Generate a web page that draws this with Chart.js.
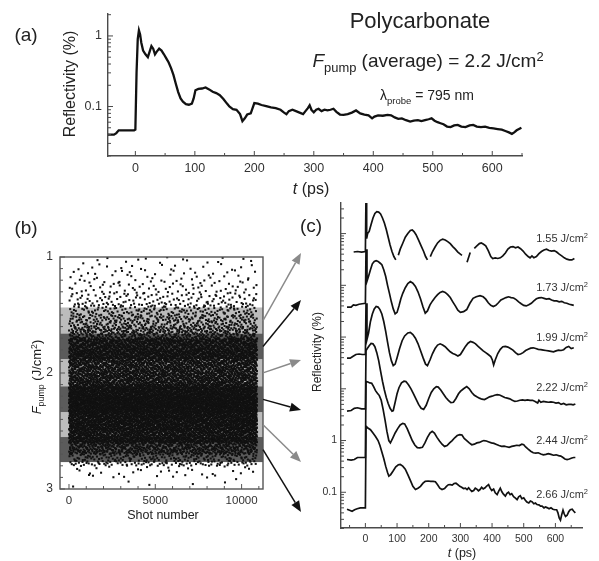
<!DOCTYPE html>
<html>
<head>
<meta charset="utf-8">
<title>Polycarbonate reflectivity</title>
<script src="https://cdn.jsdelivr.net/npm/chart.js@4.4.0/dist/chart.umd.min.js"></script>
<style>
  html, body { margin: 0; padding: 0; background: #fff; }
  #page { position: relative; width: 599px; height: 561px; overflow: hidden; background: #fff;
          font-family: Arial, "Liberation Sans", sans-serif; color: #222; }
  #page canvas { position: absolute; }
  .t   { position: absolute; white-space: nowrap; line-height: 1; transform: translate(-50%, -50%); }
  .rot { transform: translate(-50%, -50%) rotate(-90deg); }
  .rt  { transform: translate(-100%, -50%); }
  sub, sup { font-size: .68em; line-height: 0; vertical-align: 0; position: relative; }
  sub { top: .38em; }
  sup { top: -.5em; }
</style>
</head>
<body>
<div id="page">
  <canvas id="chartA" width="599" height="200" style="left:0;top:0"></canvas>
  <canvas id="chartB" width="306" height="361" style="left:0;top:200px"></canvas>
  <canvas id="chartC" width="299" height="371" style="left:300px;top:190px"></canvas>

  <!-- panel (a) -->
  <div class="t" style="left:26px;top:34px;font-size:19px">(a)</div>
  <div class="t rot" style="left:70px;top:84px;font-size:16px">Reflectivity (%)</div>
  <div class="t" style="left:311px;top:189px;font-size:16px"><i>t</i> (ps)</div>
  <div class="t" style="left:420px;top:21px;font-size:22px">Polycarbonate</div>
  <div class="t" style="left:428px;top:60px;font-size:19px"><i>F</i><sub>pump</sub> (average) = 2.2 J/cm<sup>2</sup></div>
  <div class="t" style="left:427px;top:95px;font-size:14px">&lambda;<sub>probe</sub> = 795 nm</div>

  <!-- panel (b) -->
  <div class="t" style="left:26px;top:227px;font-size:19px">(b)</div>
  <div class="t rot" style="left:36px;top:377px;font-size:13px"><i>F</i><sub>pump</sub> (J/cm<sup>2</sup>)</div>
  <div class="t" style="left:163px;top:515px;font-size:12.5px">Shot number</div>

  <!-- panel (c) -->
  <div class="t" style="left:311px;top:225px;font-size:19px">(c)</div>
  <div class="t rot" style="left:317px;top:352px;font-size:12px">Reflectivity (%)</div>
  <div class="t" style="left:462px;top:553px;font-size:12.5px"><i>t</i> (ps)</div>
  <div class="t rt" style="left:588px;top:238px;font-size:11px;color:#333">1.55 J/cm<sup>2</sup></div>
  <div class="t rt" style="left:588px;top:287px;font-size:11px;color:#333">1.73 J/cm<sup>2</sup></div>
  <div class="t rt" style="left:588px;top:337px;font-size:11px;color:#333">1.99 J/cm<sup>2</sup></div>
  <div class="t rt" style="left:588px;top:387px;font-size:11px;color:#333">2.22 J/cm<sup>2</sup></div>
  <div class="t rt" style="left:588px;top:440px;font-size:11px;color:#333">2.44 J/cm<sup>2</sup></div>
  <div class="t rt" style="left:588px;top:494px;font-size:11px;color:#333">2.66 J/cm<sup>2</sup></div>
</div>

<script>
'use strict';

const FONT = 'Arial, "Liberation Sans", sans-serif';
const INK  = '#333';

// ---- (a) reflectivity at the average fluence, t in ps, R in % ----
const timeA = [-46,-36,-32,-28,-15,-2,0,2,4,6,8,10,13,17,21,24,27,30,33,36,40,44,48,52,56,60,64,68,72,76,80,85,
  90,95,98,101,106,112,118,124,130,136,142,148,154,158,164,170,176,180,184,188,194,200,206,212,220,228,236,244,
  250,254,258,264,270,276,282,286,290,293,296,300,304,308,313,318,323,328,333,338,344,350,357,364,371,378,385,392,
  398,402,408,416,424,430,436,442,448,455,462,468,475,481,487,493,498,503,508,513,518,524,530,536,542,548,555,562,
  568,574,581,588,595,602,609,616,622,628,633,637,641,645,649];
const reflA = [0.040,0.040,0.042,0.046,0.046,0.046,0.047,0.3,0.9,1.2,1.05,0.8,0.62,0.55,0.5,0.6,0.72,0.66,0.55,0.6,
  0.66,0.62,0.55,0.48,0.42,0.35,0.28,0.21,0.16,0.13,0.117,0.108,0.106,0.11,0.13,0.17,0.178,0.18,0.186,0.175,0.162,
  0.155,0.145,0.128,0.11,0.1,0.092,0.09,0.078,0.062,0.068,0.077,0.08,0.112,0.11,0.105,0.101,0.097,0.095,0.09,0.082,
  0.078,0.086,0.09,0.086,0.082,0.078,0.086,0.095,0.104,0.09,0.083,0.09,0.093,0.086,0.09,0.088,0.09,0.093,0.084,
  0.077,0.076,0.078,0.082,0.088,0.08,0.077,0.075,0.068,0.072,0.075,0.074,0.076,0.075,0.07,0.067,0.068,0.064,0.061,
  0.063,0.064,0.062,0.064,0.066,0.068,0.063,0.06,0.058,0.056,0.052,0.051,0.054,0.055,0.052,0.051,0.054,0.055,0.052,
  0.051,0.052,0.05,0.049,0.048,0.047,0.045,0.043,0.041,0.043,0.046,0.048,0.05];

// ---- (b) pump fluence per shot, counted in 0.1 J/cm2 bins ----
const fBinEdges   = [1.0,1.1,1.2,1.3,1.4,1.5,1.6,1.7,1.8,1.9,2.0,2.1,2.2,2.3,2.4,2.5,2.6,2.7,2.8,2.9,3.0];
const shotsPerBin = [25,40,60,100,180,260,400,800,900,850,900,1100,1250,1250,1200,1050,550,220,35,8];
const shotRange   = [0, 10900];
// fluence windows used for the averaged traces in (c)
const bandEdges   = [1.435,1.66,1.883,2.115,2.34,2.552,2.768];
const bandShade   = ['#bcbcbc','#5b5b5b','#bcbcbc','#5b5b5b','#bcbcbc','#5b5b5b'];
const arrowColour = ['#8a8a8a','#111','#8a8a8a','#111','#8a8a8a','#111'];
const arrowTipY   = [253,300,360,410,462,512];   // page y where each arrow lands

// ---- (c) traces per fluence window, each shifted by one decade ----
const traceOffset = [1e5,1e4,1e3,1e2,10,1];

const t155 = [-37,-25,-12,0,2,4,7,12,18,24,30,36,42,48,54,60,66,72,78,84,90,96,100,104,110,118,126,134,142,148,154,
  160,168,176,184,190,196,200,205,212,220,228,236,244,252,260,268,276,284,292,300,305,310,321,331,336,344,352,360,
  366,372,380,388,396,402,410,418,426,434,442,450,458,466,474,482,490,498,506,514,520,526,532,540,548,556,564,572,
  580,588,596,604,612,620,628,636,644,652,660];
const r155 = [0.044,0.045,0.044,0.045,0.6,0.08,0.1,0.11,0.15,0.2,0.245,0.265,0.26,0.24,0.2,0.16,0.12,0.085,0.06,
  0.045,0.036,0.031,null,0.038,0.05,0.065,0.085,0.1,0.115,0.118,0.108,0.095,0.075,0.058,0.045,0.036,0.031,null,
  0.036,0.045,0.055,0.066,0.074,0.078,0.075,0.07,0.064,0.056,0.05,0.044,0.04,0.038,null,0.028,0.043,null,0.052,
  0.058,0.064,0.066,0.063,0.058,0.047,0.036,0.033,0.034,0.033,0.034,0.037,0.042,0.05,0.055,0.056,0.053,0.055,
  0.051,0.046,0.04,0.036,0.034,0.037,0.034,0.036,0.041,0.045,0.048,0.05,0.047,0.046,0.047,0.044,0.04,0.037,0.034,
  0.032,0.031,0.031,0.033];

const t173 = [-58,-45,-38,-30,-20,-10,0,2,5,10,16,22,28,34,40,46,52,58,64,70,76,82,88,94,100,106,112,118,126,134,
  142,150,158,166,174,182,189,196,204,212,220,228,236,244,252,260,268,276,284,292,300,310,320,330,340,350,362,372,
  380,388,396,404,412,420,428,436,444,452,460,468,476,484,492,500,508,516,524,532,540,548,556,564,572,580,588,596,
  604,612,620,628,636,644,652,658];
const r173 = [0.038,0.038,0.042,0.041,0.043,0.044,0.045,0.5,0.12,0.15,0.2,0.26,0.29,0.3,0.29,0.27,0.25,0.2,0.15,
  0.1,0.07,0.048,0.035,0.028,0.03,0.04,0.055,0.07,0.09,0.108,0.118,0.11,0.095,0.075,0.055,0.038,0.029,0.032,0.042,
  0.05,0.058,0.066,0.073,0.076,0.073,0.066,0.058,0.048,0.04,0.033,0.03,0.031,0.034,0.045,0.056,0.06,0.063,0.06,
  0.054,0.046,0.041,0.039,0.041,0.046,0.052,0.055,0.058,0.06,0.058,0.057,0.053,0.048,0.044,0.041,0.04,0.042,0.045,
  0.05,0.055,0.057,0.058,0.056,0.054,0.055,0.052,0.05,0.05,0.048,0.049,0.046,0.045,0.043,0.042,0.041];

const t199 = [-58,-48,-40,-30,-20,-10,0,2,5,10,16,22,28,34,40,46,52,58,64,70,76,82,88,94,100,108,116,124,134,142,
  150,158,166,174,182,190,196,204,212,220,228,236,244,252,260,268,276,284,292,300,308,316,324,332,340,348,356,364,
  372,380,388,396,401,405,410,418,426,434,442,450,458,466,474,482,490,498,506,514,522,530,538,546,554,562,570,578,
  586,594,602,610,618,626,634,642,650,658];
const r199 = [0.039,0.039,0.042,0.046,0.047,0.046,0.046,0.45,0.09,0.12,0.2,0.28,0.35,0.39,0.38,0.34,0.28,0.2,0.13,
  0.08,0.05,0.035,0.028,0.03,0.04,0.06,0.085,0.105,0.12,0.123,0.112,0.095,0.075,0.055,0.04,0.03,0.028,0.036,0.048,
  0.06,0.07,0.074,0.07,0.065,0.058,0.052,0.048,0.046,0.043,0.046,0.055,0.066,0.076,0.082,0.079,0.074,0.066,0.06,
  0.054,0.05,0.046,0.042,0.036,0.029,0.036,0.048,0.058,0.065,0.066,0.064,0.06,0.056,0.05,0.046,0.047,0.05,0.055,
  0.058,0.061,0.062,0.06,0.058,0.057,0.056,0.055,0.054,0.053,0.052,0.054,0.056,0.055,0.057,0.063,0.066,0.06,0.062];

const t222 = [-58,-45,-35,-25,-12,0,2,6,12,18,24,30,36,42,48,54,60,66,72,78,84,88,94,100,106,114,122,128,136,144,
  152,160,168,176,184,192,200,208,216,224,230,238,246,254,262,270,278,286,294,300,310,320,328,336,344,352,360,368,
  376,384,392,400,408,416,424,432,440,448,456,464,472,480,488,496,504,512,520,528,536,544,548,554,562,570,578,586,
  594,602,610,618,626,634,642,650,656,663];
const r222 = [0.037,0.038,0.042,0.043,0.041,0.041,0.55,0.6,0.68,0.75,0.74,0.65,0.5,0.35,0.22,0.14,0.095,0.068,
  0.052,0.042,0.037,0.038,0.055,0.08,0.105,0.13,0.14,0.138,0.12,0.1,0.08,0.063,0.05,0.042,0.04,0.048,0.065,0.085,
  0.1,0.11,0.108,0.095,0.08,0.068,0.06,0.054,0.055,0.065,0.08,0.089,0.1,0.11,0.1,0.085,0.075,0.07,0.066,0.063,
  0.062,0.066,0.07,0.072,0.075,0.077,0.076,0.072,0.068,0.066,0.064,0.06,0.057,0.058,0.06,0.061,0.06,0.061,0.06,
  0.06,0.057,0.053,0.06,0.055,0.057,0.056,0.055,0.056,0.055,0.053,0.054,0.05,0.052,0.049,0.05,0.05,0.049,0.051];

const t244 = [-58,-45,-35,-25,-12,0,2,8,14,20,26,32,38,44,50,56,62,68,74,79,86,94,102,110,118,124,132,140,148,156,
  164,172,180,188,196,204,211,218,226,234,242,250,258,266,274,282,290,298,305,312,320,328,336,344,352,360,368,374,
  382,390,398,406,414,422,430,438,446,454,462,470,478,486,494,500,506,514,522,530,538,546,554,562,570,578,586,594,
  602,610,617,624,630,637,644,652,658,663];
const r244 = [0.043,0.042,0.043,0.047,0.047,0.047,1.39,1.35,1.3,1.28,1.1,0.92,0.82,0.74,0.6,0.4,0.25,0.15,0.1,0.09,
  0.11,0.14,0.17,0.2,0.215,0.21,0.17,0.13,0.1,0.082,0.073,0.072,0.074,0.09,0.115,0.14,0.151,0.14,0.115,0.098,0.085,
  0.077,0.08,0.09,0.1,0.113,0.125,0.13,0.128,0.11,0.1,0.09,0.083,0.085,0.09,0.092,0.097,0.1,0.098,0.094,0.09,0.088,
  0.084,0.08,0.077,0.078,0.076,0.074,0.077,0.079,0.081,0.08,0.085,0.083,0.075,0.068,0.062,0.058,0.057,0.058,0.055,
  0.053,0.054,0.056,0.054,0.052,0.053,0.051,0.05,0.047,0.044,0.043,0.044,0.046,0.047,0.047];

const t266 = [-58,-50,-42,-34,-26,-16,-6,0,2,8,16,24,32,40,46,52,58,64,70,74,80,88,96,104,110,118,126,134,142,150,
  158,166,174,182,189,198,206,214,221,228,235,242,250,256,262,268,274,280,286,292,298,304,310,316,321,326,331,336,
  342,347,352,357,362,367,372,378,383,389,394,399,405,410,416,421,426,431,436,442,447,452,457,462,468,473,479,484,
  489,494,500,505,510,516,521,526,532,537,542,548,553,558,564,569,575,580,586,592,598,604,608,612,616,620,624,628,
  632,637,642,647,653,658,663];
const r266 = [0.047,0.045,0.043,0.046,0.048,0.05,0.05,0.05,1.88,1.75,1.62,1.4,1.2,1.0,0.8,0.6,0.45,0.32,0.24,0.205,
  0.22,0.26,0.31,0.34,0.345,0.32,0.28,0.22,0.17,0.13,0.113,0.12,0.13,0.15,0.163,0.165,0.162,0.163,0.16,0.14,0.12,
  0.113,0.118,0.13,0.14,0.141,0.138,0.148,0.15,0.14,0.13,0.125,0.118,0.12,0.113,0.122,0.112,0.104,0.108,0.12,0.115,
  0.107,0.113,0.125,0.116,0.122,0.132,0.141,0.12,0.108,0.115,0.098,0.09,0.105,0.12,0.102,0.092,0.084,0.095,0.1,
  0.09,0.094,0.082,0.078,0.072,0.082,0.086,0.075,0.078,0.07,0.065,0.062,0.068,0.066,0.06,0.062,0.058,0.057,0.054,
  0.054,0.05,0.052,0.05,0.048,0.05,0.047,0.046,0.046,0.04,0.032,0.029,0.037,0.045,0.038,0.034,0.036,0.042,0.046,
  0.047,0.043,0.04];

const traceTimes = [t155, t173, t199, t222, t244, t266];
const traceRefl  = [r155, r173, r199, r222, r244, r266];

// ---- tick positions ----
const range = (a, b, s) => { const out = []; for (let v = a; v <= b + 1e-9; v += s) out.push(+v.toFixed(6)); return out; };
const logMinors = (lo, hi) => {
  const out = [];
  for (let e = lo; e <= hi; e++) for (let k = 2; k <= 9; k++) out.push(k * Math.pow(10, e));
  return out;
};

const xTicksA = range(0, 600, 100),  xMinorA = range(50, 650, 100);
const yTicksA = [0.1, 1],            yMinorA = logMinors(-2, 0);
const xTicksB = [0, 5000, 10000],    xMinorB = range(1000, 11000, 1000).filter(v => v % 5000);
const yTicksB = [1, 2, 3],           yMinorB = range(1.1, 2.9, 0.1).filter(v => Math.abs(v - 2) > 1e-6);
const xTicksC = range(0, 600, 100),  xMinorC = range(-50, 650, 100);
const yTicksC = [0.1, 1],            yMajorC = [0.1, 1, 10, 100, 1000, 10000], yMinorC = logMinors(-2, 4);

// ---- helpers ----
const xy = (ts, vs, k) => ts.map((t, i) => ({ x: t, y: vs[i] === null ? null : vs[i] * k }));
const fixedTicks = list => s => { s.ticks = list.map(v => ({ value: v })); };
const fixSize = px => s => { if (s.isHorizontal()) s.height = px; else s.width = px; };

function tickFont(size) { return { family: FONT, size: size }; }

function axisOpts(extra) {
  return Object.assign({
    grid: { display: false, drawTicks: false },
    border: { display: true, color: '#4a4a4a', width: 1.4 },
  }, extra);
}

// short inward tick marks on the bottom and left axes
function tickMarks(o) {
  return {
    id: 'tickMarks',
    afterDatasetsDraw(chart) {
      const { ctx, chartArea: a } = chart;
      const xs = chart.scales.x, ys = chart.scales.y;
      ctx.save();
      ctx.strokeStyle = o.colour;
      ctx.lineWidth = 1;
      ctx.beginPath();
      const xt = (list, len) => list.forEach(v => {
        const p = xs.getPixelForValue(v);
        if (p < a.left - 0.5 || p > a.right + 0.5) return;
        ctx.moveTo(p, a.bottom); ctx.lineTo(p, a.bottom - len);
      });
      const yt = (list, len) => list.forEach(v => {
        const p = ys.getPixelForValue(v);
        if (p < a.top - 0.5 || p > a.bottom + 0.5) return;
        ctx.moveTo(a.left, p); ctx.lineTo(a.left + len, p);
      });
      xt(o.xMajor, 5); xt(o.xMinor, 3);
      yt(o.yMajor, 5); yt(o.yMinor, 3);
      ctx.stroke();
      if (o.box) {
        ctx.lineWidth = 1.4;
        ctx.strokeRect(a.left, a.top, a.width, a.height);
      }
      ctx.restore();
    }
  };
}

const quiet = { legend: { display: false }, tooltip: { enabled: false } };

// ---------------- (a) ----------------
new Chart(document.getElementById('chartA'), {
  type: 'line',
  data: { datasets: [{ data: xy(timeA, reflA, 1), borderColor: '#111', borderWidth: 2.3,
                       pointRadius: 0, tension: 0 }] },
  options: {
    responsive: false, animation: false, events: [],
    layout: { padding: { left: 0, top: 12, right: 77, bottom: 0 } },
    plugins: quiet,
    scales: {
      x: axisOpts({ type: 'linear', min: -46, max: 650,
        ticks: { font: tickFont(12.5), color: INK, padding: 5, maxRotation: 0, autoSkip: false, callback: v => String(v) },
        afterBuildTicks: fixedTicks(xTicksA), afterFit: fixSize(44) }),
      y: axisOpts({ type: 'logarithmic', min: 0.0199, max: 2.08,
        ticks: { font: tickFont(12.5), color: INK, padding: 6, autoSkip: false, callback: v => String(v) },
        afterBuildTicks: fixedTicks(yTicksA), afterFit: fixSize(108) })
    }
  },
  plugins: [tickMarks({ colour: '#4a4a4a', xMajor: xTicksA, xMinor: xMinorA, yMajor: yTicksA, yMinor: yMinorA })]
});

// ---------------- (b) ----------------
// Shots laid out with a Halton (2,3) sequence: base 2 along the shot axis,
// base 3 pushed through the cumulative bin counts so each bin keeps its count.
function radicalInverse(i, base) {
  let f = 1, r = 0;
  while (i > 0) { f /= base; r += f * (i % base); i = Math.floor(i / base); }
  return r;
}
const cumShots = [0];
shotsPerBin.forEach(n => cumShots.push(cumShots[cumShots.length - 1] + n));
const totalShots = cumShots[cumShots.length - 1];
const shots = [];
for (let k = 0; k < totalShots; k++) {
  const u = radicalInverse(k + 1, 2);
  const w = radicalInverse(k + 1, 3) * totalShots;
  let b = 0;
  while (b < shotsPerBin.length - 1 && w >= cumShots[b + 1]) b++;
  const frac = (w - cumShots[b]) / shotsPerBin[b];
  shots.push({
    x: shotRange[0] + u * (shotRange[1] - shotRange[0]),
    y: fBinEdges[b] + frac * (fBinEdges[b + 1] - fBinEdges[b])
  });
}

const B_TOP = 200;

const bandFill = {
  id: 'bandFill',
  beforeDatasetsDraw(chart) {
    const { ctx, chartArea: a } = chart, ys = chart.scales.y;
    ctx.save();
    bandShade.forEach((c, i) => {
      const y0 = ys.getPixelForValue(bandEdges[i]), y1 = ys.getPixelForValue(bandEdges[i + 1]);
      ctx.fillStyle = c;
      ctx.fillRect(a.left, y0, a.width, y1 - y0);
    });
    ctx.restore();
  }
};

const fanArrows = {
  id: 'fanArrows',
  afterDraw(chart) {
    const { ctx, chartArea: a } = chart, ys = chart.scales.y;
    ctx.save();
    arrowColour.forEach((c, i) => {
      const x0 = a.right, y0 = ys.getPixelForValue((bandEdges[i] + bandEdges[i + 1]) / 2);
      const x1 = 301, y1 = arrowTipY[i] - B_TOP;
      const ang = Math.atan2(y1 - y0, x1 - x0), L = 11, W = 4.5;
      const bx = x1 - L * Math.cos(ang), by = y1 - L * Math.sin(ang);
      ctx.strokeStyle = c; ctx.fillStyle = c; ctx.lineWidth = 1.5;
      ctx.beginPath(); ctx.moveTo(x0, y0); ctx.lineTo(bx, by); ctx.stroke();
      ctx.beginPath();
      ctx.moveTo(x1, y1);
      ctx.lineTo(bx + W * Math.sin(ang), by - W * Math.cos(ang));
      ctx.lineTo(bx - W * Math.sin(ang), by + W * Math.cos(ang));
      ctx.closePath(); ctx.fill();
    });
    ctx.restore();
  }
};

new Chart(document.getElementById('chartB'), {
  type: 'scatter',
  data: { datasets: [{ data: shots, pointStyle: 'rect', pointRadius: 1.45, borderWidth: 0,
                       pointBorderWidth: 0, backgroundColor: '#111' }] },
  options: {
    responsive: false, animation: false, events: [], parsing: false, normalized: true,
    layout: { padding: { left: 0, top: 57, right: 43, bottom: 0 } },
    plugins: quiet,
    scales: {
      x: { type: 'linear', min: -521, max: 11240, grid: { display: false, drawTicks: false }, border: { display: false },
        ticks: { font: tickFont(11.5), color: INK, padding: 5, maxRotation: 0, autoSkip: false, callback: v => String(v) },
        afterBuildTicks: fixedTicks(xTicksB), afterFit: fixSize(72) },
      y: { type: 'linear', reverse: true, min: 1, max: 3, grid: { display: false, drawTicks: false }, border: { display: false },
        ticks: { font: tickFont(12), color: INK, padding: 7, autoSkip: false, callback: v => String(v) },
        afterBuildTicks: fixedTicks(yTicksB), afterFit: fixSize(60) }
    }
  },
  plugins: [bandFill,
            tickMarks({ colour: '#555', box: true, xMajor: xTicksB, xMinor: xMinorB, yMajor: yTicksB, yMinor: yMinorB }),
            fanArrows]
});

// ---------------- (c) ----------------
new Chart(document.getElementById('chartC'), {
  type: 'line',
  data: {
    datasets: traceTimes.map((ts, i) => ({
      data: xy(ts, traceRefl[i], traceOffset[i]),
      borderColor: '#111', borderWidth: 1.7, pointRadius: 0, tension: 0, spanGaps: false
    }))
  },
  options: {
    responsive: false, animation: false, events: [],
    layout: { padding: { left: 0, top: 13, right: 17, bottom: 0 } },
    plugins: quiet,
    scales: {
      x: axisOpts({ type: 'linear', min: -77, max: 684,
        ticks: { font: tickFont(10.5), color: INK, padding: 5, maxRotation: 0, autoSkip: false, callback: v => String(v) },
        afterBuildTicks: fixedTicks(xTicksC), afterFit: fixSize(33) }),
      y: axisOpts({ type: 'logarithmic', min: 0.0204, max: 39000,
        ticks: { font: tickFont(10.5), color: INK, padding: 4, autoSkip: false, callback: v => String(v) },
        afterBuildTicks: fixedTicks(yTicksC), afterFit: fixSize(41) })
    }
  },
  plugins: [tickMarks({ colour: '#4a4a4a', xMajor: xTicksC, xMinor: xMinorC, yMajor: yMajorC, yMinor: yMinorC })]
});
</script>
</body>
</html>
